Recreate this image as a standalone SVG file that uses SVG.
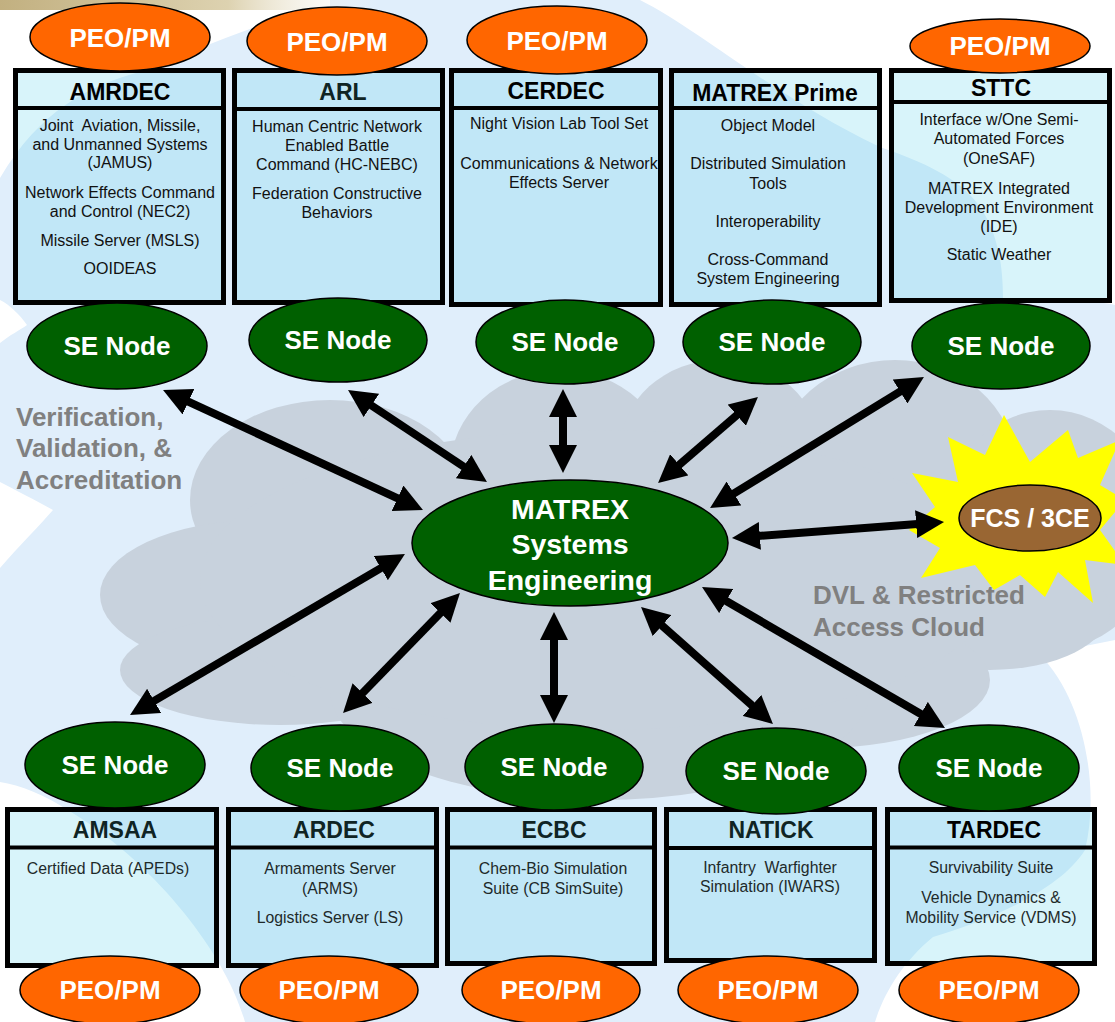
<svg xmlns="http://www.w3.org/2000/svg" width="1115" height="1022" viewBox="0 0 1115 1022">
<style>
text{font-family:"Liberation Sans",Arial,Helvetica,sans-serif;}
.peo{fill:#ff6600;stroke:#000;stroke-width:1.5;}
.se{fill:#006000;stroke:#000;stroke-width:1.5;}
.wt{fill:#fff;font-weight:bold;font-size:26px;text-anchor:middle;}
.box{fill:#64d2eb;fill-opacity:0.25;stroke:#000;stroke-width:5;}
.hdr{stroke:#000;stroke-width:4;}
.ttl{font-weight:bold;font-size:23px;text-anchor:middle;fill:#000;}
.ttl2{font-weight:bold;font-size:23px;text-anchor:middle;fill:#0f2424;}
.bd{font-size:16px;text-anchor:middle;fill:#111;white-space:pre;}
.bd2{font-size:15.8px;text-anchor:middle;fill:#1e2a2a;white-space:pre;}
.lbl{font-weight:bold;font-size:26px;fill:#808080;}
.arr{stroke:#000;stroke-width:8;fill:none;marker-start:url(#ah);marker-end:url(#ah);}
</style>
<defs>
<marker id="ah" viewBox="0 0 28 28" refX="8" refY="14" markerWidth="28" markerHeight="28" markerUnits="userSpaceOnUse" orient="auto-start-reverse">
<path d="M0,0 L28,14 L0,28 Z" fill="#000"/>
</marker>
<linearGradient id="tan" x1="0" y1="0" x2="1" y2="0">
<stop offset="0" stop-color="#c2b080"/>
<stop offset="0.6" stop-color="#ddd2b0"/>
<stop offset="1" stop-color="#ffffff" stop-opacity="0"/>
</linearGradient>
</defs>
<rect width="1115" height="1022" fill="#fff"/>
<g id="background">
<path fill="#e0eefb" d="M0,178 C40,110 90,85 140,72 C200,50 260,20 330,6 L330,0 L640,0 C700,30 780,100 880,147 C960,175 1003,200 1003,300 C1040,296 1090,300 1115,305 L1115,640 L1040,655 C1085,700 1100,790 1085,850 C1060,890 990,920 933,937 C905,960 885,990 875,1022 L245,1022 C225,950 150,860 71,812 C45,795 20,785 0,782 L0,568 C20,545 40,525 53,510 C35,500 15,490 0,482 L0,343 C10,335 20,330 27,325 C20,315 10,305 0,300 Z"/>
<rect x="0" y="0" width="380" height="10" fill="url(#tan)"/>
<g fill="#c8d2dd">
<ellipse cx="330" cy="500" rx="140" ry="100"/>
<ellipse cx="260" cy="595" rx="160" ry="75"/>
<ellipse cx="280" cy="670" rx="160" ry="55"/>
<ellipse cx="560" cy="470" rx="110" ry="100"/>
<ellipse cx="720" cy="450" rx="100" ry="90"/>
<ellipse cx="895" cy="465" rx="120" ry="105"/>
<ellipse cx="1050" cy="530" rx="110" ry="120"/>
<ellipse cx="990" cy="610" rx="120" ry="60"/>
<ellipse cx="820" cy="680" rx="170" ry="68"/>
<ellipse cx="600" cy="690" rx="270" ry="110"/>
<ellipse cx="600" cy="580" rx="400" ry="150"/>
</g>
<polygon fill="#ffff00" points="1004,415 1030,462 1068,430 1078,458 1120,440 1100,485 1125,500 1100,530 1125,565 1085,560 1093,603 1058,572 1045,597 1020,575 994,590 975,565 921,578 940,548 909,530 935,507 912,473 958,482 948,437 985,455"/>
<text class="lbl" x="16" y="426">Verification,</text>
<text class="lbl" x="16" y="457">Validation, &amp;</text>
<text class="lbl" x="16" y="489">Accreditation</text>
<text class="lbl" x="813" y="604">DVL &amp; Restricted</text>
<text class="lbl" x="813" y="636">Access Cloud</text>
</g>
<g id="connectors">
<line class="arr" x1="181.2" y1="398.4" x2="404.8" y2="501.6"/>
<line class="arr" x1="364.7" y1="401" x2="470.3" y2="471"/>
<line class="arr" x1="563" y1="409" x2="563" y2="453"/>
<line class="arr" x1="742.8" y1="410" x2="673.2" y2="470"/>
<line class="arr" x1="906.9" y1="387.4" x2="727.1" y2="497.6"/>
<line class="arr" x1="751.9" y1="536.5" x2="924.1" y2="523.5"/>
<line class="arr" x1="387.7" y1="564.1" x2="147.3" y2="704.9"/>
<line class="arr" x1="446" y1="607.3" x2="357" y2="698.7"/>
<line class="arr" x1="554" y1="632" x2="554" y2="703"/>
<line class="arr" x1="656" y1="620.3" x2="758" y2="710.7"/>
<line class="arr" x1="719.3" y1="597" x2="927.7" y2="718"/>
</g>
<g id="matrex-se">
<ellipse class="se" cx="570" cy="543" rx="158" ry="63"/>
<text class="wt" x="570" y="519" style="font-size:28.5px">MATREX</text>
<text class="wt" x="570" y="554" style="font-size:28.5px">Systems</text>
<text class="wt" x="570" y="590" style="font-size:28.5px">Engineering</text>
</g>
<g id="fcs-3ce">
<ellipse cx="1030" cy="518" rx="71" ry="33" fill="#996633" stroke="#000" stroke-width="1.5"/>
<text class="wt" x="1030" y="527" style="font-size:25px">FCS / 3CE</text>
</g>
<g id="amrdec">
<rect class="box" x="15.5" y="70.5" width="208" height="232"/>
<line class="hdr" x1="15" y1="108" x2="224" y2="108"/>
<text class="ttl" x="120" y="100">AMRDEC</text>
<text class="bd" x="120" y="131">Joint  Aviation, Missile,</text>
<text class="bd" x="120" y="149.5">and Unmanned Systems</text>
<text class="bd" x="120" y="168">(JAMUS)</text>
<text class="bd" x="120" y="198">Network Effects Command</text>
<text class="bd" x="120" y="217">and Control (NEC2)</text>
<text class="bd" x="120" y="246">Missile Server (MSLS)</text>
<text class="bd" x="120" y="274">OOIDEAS</text>
<ellipse class="peo" cx="120" cy="37" rx="90" ry="34"/>
<text class="wt" x="120" y="47">PEO/PM</text>
<ellipse class="se" cx="117" cy="346" rx="90" ry="43"/>
<text class="wt" x="117" y="355">SE Node</text>
</g>
<g id="arl">
<rect class="box" x="234.5" y="70.5" width="208" height="232"/>
<line class="hdr" x1="234" y1="109" x2="443" y2="109"/>
<text class="ttl2" x="343" y="100">ARL</text>
<text class="bd" x="337" y="131.5">Human Centric Network</text>
<text class="bd" x="337" y="151">Enabled Battle</text>
<text class="bd" x="337" y="170">Command (HC-NEBC)</text>
<text class="bd" x="337" y="199">Federation Constructive</text>
<text class="bd" x="337" y="218">Behaviors</text>
<ellipse class="peo" cx="337" cy="41" rx="90" ry="34"/>
<text class="wt" x="337" y="51">PEO/PM</text>
<ellipse class="se" cx="338" cy="340" rx="89" ry="42"/>
<text class="wt" x="338" y="349">SE Node</text>
</g>
<g id="cerdec">
<rect class="box" x="451.5" y="70.5" width="209" height="234"/>
<line class="hdr" x1="451" y1="108" x2="661" y2="108"/>
<text class="ttl" x="556" y="99">CERDEC</text>
<text class="bd" x="559" y="128.5">Night Vision Lab Tool Set</text>
<text class="bd" x="559" y="168.5">Communications &amp; Network</text>
<text class="bd" x="559" y="187.5">Effects Server</text>
<ellipse class="peo" cx="557" cy="40" rx="90" ry="34"/>
<text class="wt" x="557" y="50">PEO/PM</text>
<ellipse class="se" cx="565" cy="342" rx="89" ry="42"/>
<text class="wt" x="565" y="351">SE Node</text>
</g>
<g id="matrex-prime">
<rect class="box" x="671.5" y="70.5" width="208" height="234"/>
<line class="hdr" x1="671" y1="108" x2="880" y2="108"/>
<text class="ttl" x="775" y="101">MATREX Prime</text>
<text class="bd" x="768" y="130.5">Object Model</text>
<text class="bd" x="768" y="168.5">Distributed Simulation</text>
<text class="bd" x="768" y="188.5">Tools</text>
<text class="bd" x="768" y="226.5">Interoperability</text>
<text class="bd" x="768" y="264.5">Cross-Command</text>
<text class="bd" x="768" y="283.5">System Engineering</text>
<ellipse class="se" cx="772" cy="342" rx="89" ry="42"/>
<text class="wt" x="772" y="351">SE Node</text>
</g>
<g id="sttc">
<rect class="box" x="891.5" y="70.5" width="218" height="230"/>
<line class="hdr" x1="891" y1="102" x2="1110" y2="102"/>
<text class="ttl" x="1001" y="96">STTC</text>
<text class="bd" x="999" y="124.5">Interface w/One Semi-</text>
<text class="bd" x="999" y="143.5">Automated Forces</text>
<text class="bd" x="999" y="163.5">(OneSAF)</text>
<text class="bd" x="999" y="193.5">MATREX Integrated</text>
<text class="bd" x="999" y="212.5">Development Environment</text>
<text class="bd" x="999" y="231.5">(IDE)</text>
<text class="bd" x="999" y="259.5">Static Weather</text>
<ellipse class="peo" cx="1000" cy="46" rx="90" ry="27"/>
<text class="wt" x="1000" y="55">PEO/PM</text>
<ellipse class="se" cx="1001" cy="346" rx="89" ry="43"/>
<text class="wt" x="1001" y="355">SE Node</text>
</g>
<g id="amsaa">
<rect class="box" x="7.5" y="809.5" width="209" height="156"/>
<line class="hdr" x1="7" y1="847.5" x2="217" y2="847.5"/>
<text class="ttl2" x="115" y="838">AMSAA</text>
<text class="bd2" x="108" y="873.5">Certified Data (APEDs)</text>
<ellipse class="se" cx="115" cy="765" rx="90" ry="43"/>
<text class="wt" x="115" y="774">SE Node</text>
<ellipse class="peo" cx="110" cy="990" rx="90" ry="34"/>
<text class="wt" x="110" y="999">PEO/PM</text>
</g>
<g id="ardec">
<rect class="box" x="228.5" y="809.5" width="208" height="156"/>
<line class="hdr" x1="228" y1="847.5" x2="437" y2="847.5"/>
<text class="ttl2" x="334" y="838">ARDEC</text>
<text class="bd2" x="330" y="873.5">Armaments Server</text>
<text class="bd2" x="330" y="893.5">(ARMS)</text>
<text class="bd2" x="330" y="922.5">Logistics Server (LS)</text>
<ellipse class="se" cx="340" cy="768" rx="89" ry="43"/>
<text class="wt" x="340" y="777">SE Node</text>
<ellipse class="peo" cx="329" cy="990" rx="89" ry="34"/>
<text class="wt" x="329" y="999">PEO/PM</text>
</g>
<g id="ecbc">
<rect class="box" x="447.5" y="809.5" width="207" height="154"/>
<line class="hdr" x1="447" y1="847.5" x2="655" y2="847.5"/>
<text class="ttl2" x="554" y="838">ECBC</text>
<text class="bd2" x="553" y="873.5">Chem-Bio Simulation</text>
<text class="bd2" x="553" y="893.5">Suite (CB SimSuite)</text>
<ellipse class="se" cx="554" cy="767" rx="89" ry="43"/>
<text class="wt" x="554" y="776">SE Node</text>
<ellipse class="peo" cx="551" cy="990" rx="89" ry="34"/>
<text class="wt" x="551" y="999">PEO/PM</text>
</g>
<g id="natick">
<rect class="box" x="666.5" y="809.5" width="208" height="151"/>
<line class="hdr" x1="666" y1="848" x2="875" y2="848"/>
<text class="ttl2" x="771" y="838">NATICK</text>
<text class="bd2" x="770" y="872.5">Infantry  Warfighter</text>
<text class="bd2" x="770" y="891.5">Simulation (IWARS)</text>
<ellipse class="se" cx="776" cy="771" rx="90" ry="43"/>
<text class="wt" x="776" y="780">SE Node</text>
<ellipse class="peo" cx="768" cy="990" rx="90" ry="34"/>
<text class="wt" x="768" y="999">PEO/PM</text>
</g>
<g id="tardec">
<rect class="box" x="887.5" y="809.5" width="207" height="154"/>
<line class="hdr" x1="887" y1="847.5" x2="1095" y2="847.5"/>
<text class="ttl" x="994" y="838">TARDEC</text>
<text class="bd2" x="991" y="872.5">Survivability Suite</text>
<text class="bd2" x="991" y="902.5">Vehicle Dynamics &amp;</text>
<text class="bd2" x="991" y="922.5">Mobility Service (VDMS)</text>
<ellipse class="se" cx="989" cy="768" rx="90" ry="43"/>
<text class="wt" x="989" y="777">SE Node</text>
<ellipse class="peo" cx="989" cy="990" rx="90" ry="34"/>
<text class="wt" x="989" y="999">PEO/PM</text>
</g>
</svg>
